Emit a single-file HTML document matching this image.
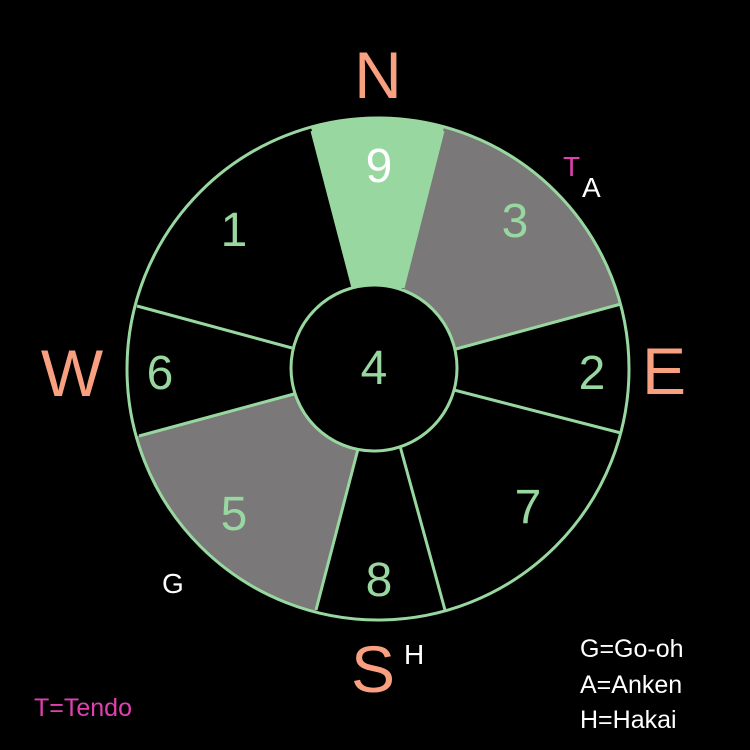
<!DOCTYPE html>
<html><head><style>html,body{margin:0;padding:0;background:#000}svg{display:block}</style></head>
<body>
<svg width="750" height="750" viewBox="0 0 750 750" xmlns="http://www.w3.org/2000/svg" font-family="Liberation Sans, sans-serif">
<defs><clipPath id="c"><circle cx="378" cy="369" r="251"/></clipPath></defs>
<rect width="750" height="750" fill="#000"/>
<g clip-path="url(#c)">
<polygon points="353,288 302,93 453,93 403,288" fill="#98d8a0"/>
<polygon points="403,288 453,93 700,93 700,282 456,349" fill="#7a7878"/>
<polygon points="358,449 306,648 60,648 60,457 294,394" fill="#7a7878"/>
</g>
<g stroke="#98d8a0" stroke-width="3" fill="none">
<line x1="353" y1="288" x2="312" y2="131"/>
<line x1="403" y1="288" x2="443" y2="131"/>
<line x1="456" y1="349" x2="621" y2="304"/>
<line x1="454" y1="390" x2="621" y2="433"/>
<line x1="400" y1="446" x2="445" y2="610"/>
<line x1="358" y1="449" x2="316" y2="610"/>
<line x1="294" y1="394" x2="139" y2="436"/>
<line x1="292" y1="348" x2="137" y2="306"/>
<circle cx="378" cy="369" r="251"/>
<circle cx="374" cy="368" r="83" fill="#000"/>
</g>
<g font-size="48" fill="#98d8a0" text-anchor="middle">
<text x="379" y="182" fill="#fff">9</text>
<text x="515" y="237">3</text>
<text x="234" y="246">1</text>
<text x="160" y="389">6</text>
<text x="374" y="384">4</text>
<text x="592" y="389">2</text>
<text x="234" y="530">5</text>
<text x="528" y="523">7</text>
<text x="379" y="596">8</text>
</g>
<g font-size="66" fill="#f8a080" text-anchor="middle">
<text x="378" y="98">N</text>
<text x="72" y="396">W</text>
<text x="664" y="394">E</text>
<text x="373" y="692">S</text>
</g>
<g font-size="28" fill="#fff">
<text x="162" y="593">G</text>
<text x="404" y="664">H</text>
<text x="582" y="197">A</text>
<text x="563" y="176" fill="#e040b0">T</text>
<text x="580" y="657" font-size="25">G=Go-oh</text>
<text x="580" y="693" font-size="25">A=Anken</text>
<text x="580" y="728" font-size="25">H=Hakai</text>
<text x="34" y="716" font-size="25" fill="#e040b0">T=Tendo</text>
</g>
</svg>
</body></html>
